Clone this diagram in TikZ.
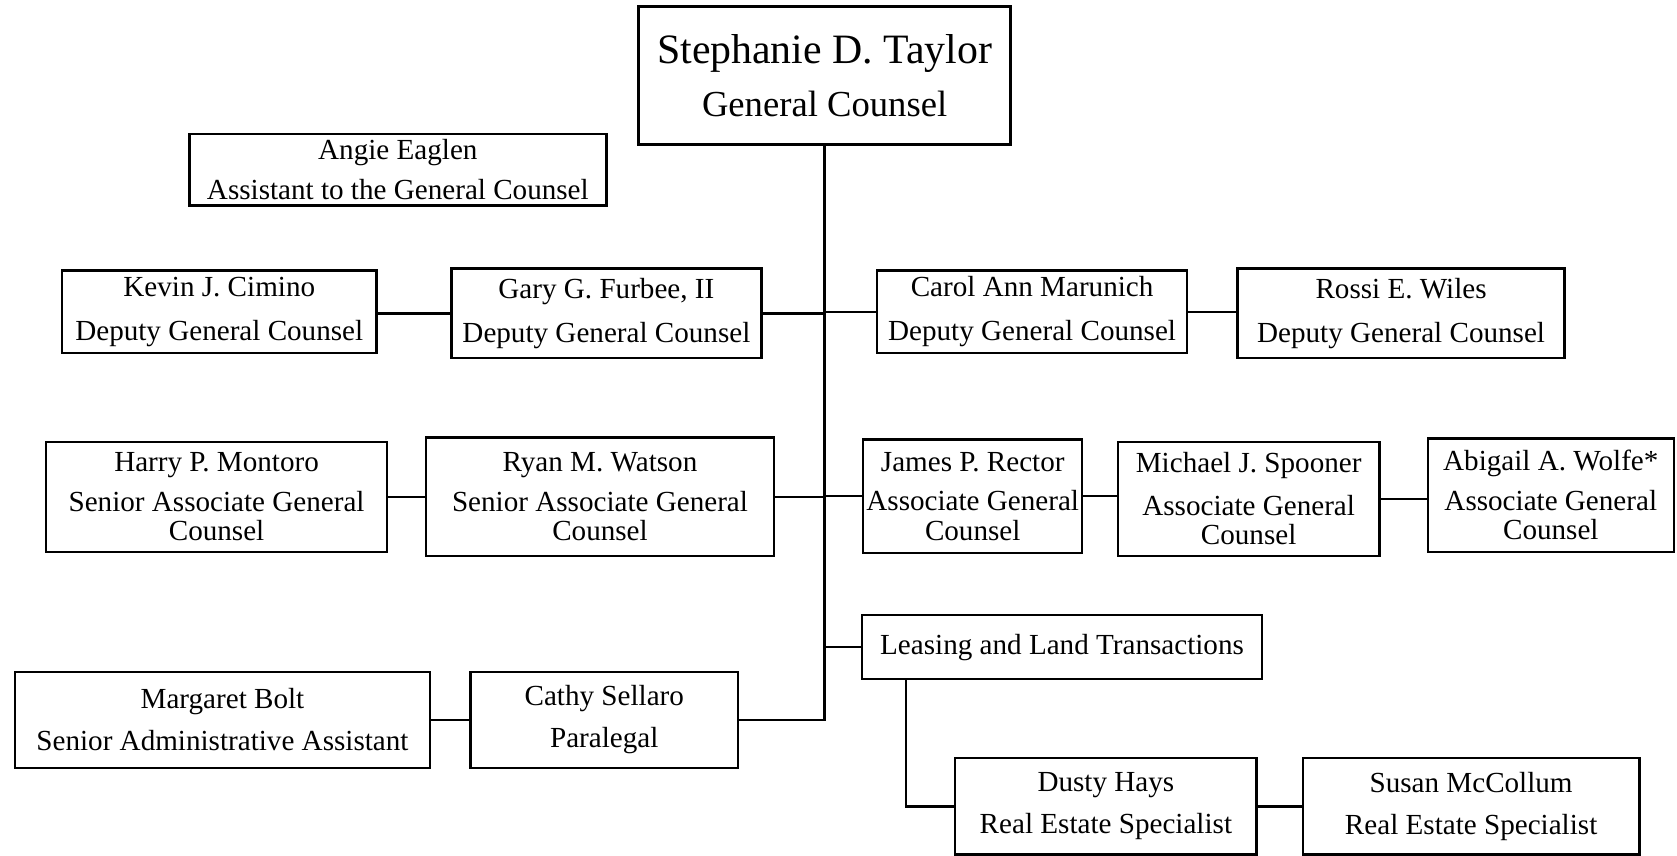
\documentclass[tikz,border=0pt]{standalone}
\usepackage{fontspec}
\setmainfont{Liberation Serif}
\usepackage{tikz}

\begin{document}
\begin{tikzpicture}[x=0.016cm,y=-0.016cm,line width=1pt]

\tikzset{
  box/.style={draw,rectangle,inner sep=0pt,align=center,font=\fontsize{12.4}{14}\selectfont},
  link/.style={line width=1pt}
}

\useasboundingbox (0,0) rectangle (1568,800);

% General Counsel
\node[box,minimum width=5.568cm,minimum height=2.064cm] (taylor) at (771,70.5)
  {{\fontsize{17.8}{20}\selectfont Stephanie D. Taylor}\\[7pt]{\fontsize{15.6}{18}\selectfont General Counsel}};
\node[box,minimum width=6.24cm,minimum height=1.072cm] (angie) at (372,158.5)
  {Angie Eaglen\\[3.2pt]Assistant to the General Counsel};

% Deputy row
\node[box,minimum width=4.704cm,minimum height=1.232cm] (kevin) at (205,291.5)
  {Kevin J. Cimino\\[4.6pt]Deputy General Counsel};
\node[box,minimum width=4.64cm,minimum height=1.344cm] (gary) at (567,293)
  {Gary G. Furbee, II\\[4.6pt]Deputy General Counsel};
\node[box,minimum width=4.64cm,minimum height=1.232cm] (carol) at (965,291.5)
  {Carol Ann Marunich\\[4.6pt]Deputy General Counsel};
\node[box,minimum width=4.896cm,minimum height=1.344cm] (rossi) at (1310,293)
  {Rossi E. Wiles\\[4.6pt]Deputy General Counsel};

% Associate row
\node[box,minimum width=5.104cm,minimum height=1.648cm] (harry) at (202.5,464.5)
  {Harry P. Montoro\\[2.8pt]Senior Associate General\\[-1.3pt]Counsel};
\node[box,minimum width=5.216cm,minimum height=1.776cm] (ryan) at (561,464.5)
  {Ryan M. Watson\\[2.8pt]Senior Associate General\\[-1.3pt]Counsel};
\node[box,minimum width=3.28cm,minimum height=1.696cm] (james) at (909.5,464)
  {James P. Rector\\[2.8pt]Associate General\\[-1.3pt]Counsel};
\node[box,minimum width=3.92cm,minimum height=1.712cm] (michael) at (1167.5,466.5)
  {Michael J. Spooner\\[4pt]Associate General\\[-1.3pt]Counsel};
\node[box,minimum width=3.68cm,minimum height=1.696cm] (abigail) at (1450,463)
  {Abigail A. Wolfe*\\[2.8pt]Associate General\\[-1.3pt]Counsel};

% Support and real estate
\node[box,minimum width=5.984cm,minimum height=0.96cm] (leasing) at (993,605)
  {Leasing and Land Transactions};
\node[box,minimum width=6.208cm,minimum height=1.44cm] (margaret) at (208,673)
  {Margaret Bolt\\[4pt]Senior Administrative Assistant};
\node[box,minimum width=4.0cm,minimum height=1.44cm] (cathy) at (565,673)
  {Cathy Sellaro\\[4pt]Paralegal};
\node[box,minimum width=4.512cm,minimum height=1.44cm] (dusty) at (1034,754)
  {Dusty Hays\\[4pt]Real Estate Specialist};
\node[box,minimum width=5.04cm,minimum height=1.44cm] (susan) at (1375.5,754)
  {Susan McCollum\\[4pt]Real Estate Specialist};

% Trunk and branches
\coordinate (trunkend) at (cathy.east -| taylor.south);
\coordinate (elbow) at (847,754);
\draw[link] (taylor.south) -- (trunkend) -- (cathy.east);
\draw[link] (gary.east) -- (gary.east -| taylor.south);
\draw[link] (carol.west) -- (carol.west -| taylor.south);
\draw[link] (ryan.east) -- (ryan.east -| taylor.south);
\draw[link] (james.west) -- (james.west -| taylor.south);
\draw[link] (leasing.west) -- (leasing.west -| taylor.south);

% Side links
\draw[link] (gary.west) -- (gary.west -| kevin.east);
\draw[link] (carol.east) -- (carol.east -| rossi.west);
\draw[link] (ryan.west) -- (ryan.west -| harry.east);
\draw[link] (james.east) -- (james.east -| michael.west);
\draw[link] (michael.east) -- (michael.east -| abigail.west);
\draw[link] (cathy.west) -- (cathy.west -| margaret.east);
\draw[link] (leasing.south -| elbow) -- (elbow) -- (dusty.west);
\draw[link] (dusty.east) -- (susan.west);

\end{tikzpicture}
\end{document}
